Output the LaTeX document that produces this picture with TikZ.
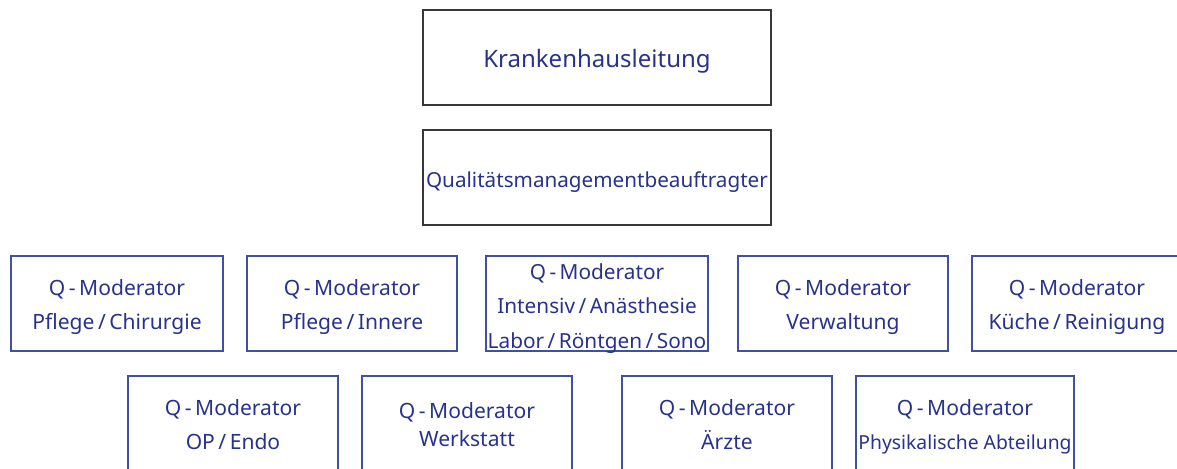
\documentclass[tikz,border=0pt]{standalone}
\usepackage{fontspec}
\setmainfont{Noto Sans}
\definecolor{qtext}{RGB}{40,50,140}
\definecolor{qline}{RGB}{64,80,162}
\definecolor{topline}{RGB}{55,55,60}

\begin{document}
\begin{tikzpicture}[x=0.75pt,y=-0.75pt]
      \tikzstyle{every node} = [align=center, inner sep=0pt, text=qtext, minimum height=71.25pt]
      \tikzstyle{topbox} = [draw=topline, line width=0.9pt, minimum width=261pt, text height=19pt, text depth=4pt]
      \tikzstyle{qbox} = [draw=qline, line width=0.9pt, font=\fontsize{15.8}{25.5}\selectfont, text height=43.5pt, text depth=4pt]
      \useasboundingbox (0,0) rectangle (1177,468);

      % Leitung
      \node[topbox, font=\fontsize{18}{21}\selectfont](leitung) at (597,57.5){Krankenhausleitung};
      \node[topbox, font=\fontsize{15.5}{20}\selectfont](qmb) at (597,177.5){Qualitätsmanagementbeauftragter};

      % erste Reihe
      \node[qbox, minimum width=159pt](chir) at (117,303.5){Q\,-\,Moderator\\Pflege\,/\,Chirurgie};
      \node[qbox, minimum width=157.5pt](inn) at (352,303.5){Q\,-\,Moderator\\Pflege\,/\,Innere};
      \node[qbox, minimum width=166.5pt, font=\fontsize{15.6}{25.8}\selectfont, text height=69pt, text depth=2pt](ints) at (597,303.5){Q\,-\,Moderator\\Intensiv\,/\,Anästhesie\\Labor\,/\,Röntgen\,/\,Sono};
      \node[qbox, minimum width=157.5pt](verw) at (843,303.5){Q\,-\,Moderator\\Verwaltung};
      \node[qbox, minimum width=157.5pt](kue) at (1077,303.5){Q\,-\,Moderator\\Küche\,/\,Reinigung};

      % zweite Reihe
      \node[qbox, minimum width=157.5pt](op) at (233,423.5){Q\,-\,Moderator\\OP\,/\,Endo};
      \node[qbox, minimum width=157.5pt, font=\fontsize{15.8}{21}\selectfont, text height=39pt](werk) at (467,423.5){Q\,-\,Moderator\\Werkstatt};
      \node[qbox, minimum width=157.5pt](arzt) at (727,423.5){Q\,-\,Moderator\\Ärzte};
      \node[qbox, minimum width=163.5pt](phys) at (965,423.5){Q\,-\,Moderator\\{\fontsize{14.5}{25.5}\selectfont Physikalische Abteilung}};
\end{tikzpicture}
\end{document}
